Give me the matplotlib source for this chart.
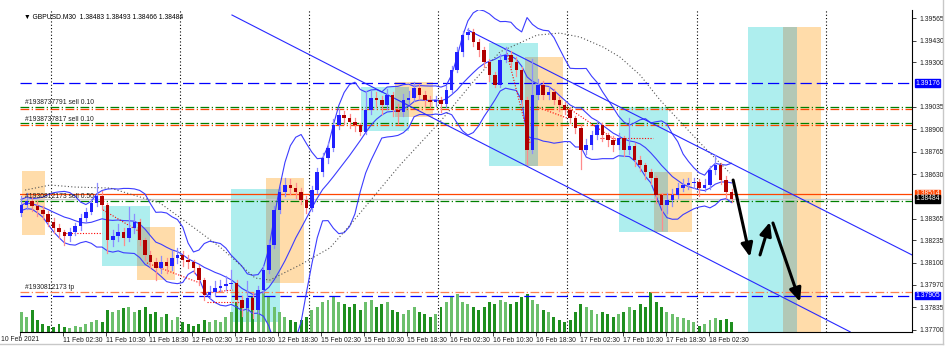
import matplotlib
matplotlib.use("Agg")
import matplotlib.pyplot as plt
from matplotlib.patches import Rectangle
from matplotlib.lines import Line2D
import pandas as pd

plt.rcParams["font.family"] = ["Liberation Sans", "DejaVu Sans"]

# hourly candles (two M30 bars per candle)
first_open = 1.38400
closes = [1.38447, 1.38471, 1.38441, 1.38417, 1.38393, 1.38345, 1.38309, 1.38285, 1.38261, 1.38285,
          1.38321, 1.38369, 1.38405, 1.38459, 1.38501, 1.38447, 1.38237, 1.38261, 1.38285, 1.38249,
          1.38309, 1.38345, 1.38237, 1.38148, 1.38106, 1.38070, 1.38106, 1.38082, 1.38130, 1.38148,
          1.38118, 1.38106, 1.38070, 1.37998, 1.37909, 1.37926, 1.37950, 1.37962, 1.37974, 1.37980,
          1.37879, 1.37831, 1.37891, 1.37819, 1.37938, 1.38058, 1.38208, 1.38417, 1.38524, 1.38566,
          1.38548, 1.38524, 1.38477, 1.38429, 1.38536, 1.38644, 1.38728, 1.38788, 1.38925, 1.38985,
          1.38967, 1.38943, 1.38925, 1.38883, 1.39015, 1.39087, 1.39075, 1.39045, 1.39105, 1.39015,
          1.39003, 1.39075, 1.39087, 1.39146, 1.39105, 1.39075, 1.39063, 1.39075, 1.39051, 1.39134,
          1.39254, 1.39362, 1.39463, 1.39481, 1.39421, 1.39374, 1.39302, 1.39224, 1.39164, 1.39314,
          1.39344, 1.39302, 1.39254, 1.39075, 1.38776, 1.39105, 1.39164, 1.39105, 1.39122, 1.39075,
          1.39045, 1.39015, 1.38967, 1.38907, 1.38776, 1.38806, 1.38865, 1.38925, 1.38865, 1.38835,
          1.38806, 1.38847, 1.38776, 1.38800, 1.38716, 1.38686, 1.38644, 1.38608, 1.38507, 1.38447,
          1.38477, 1.38507, 1.38548, 1.38566, 1.38578, 1.38584, 1.38548, 1.38566, 1.38656, 1.38686,
          1.38596, 1.38524, 1.38484]
highs = [1.38500, 1.38518, 1.38500, 1.38470, 1.38440, 1.38410, 1.38370, 1.38330, 1.38300, 1.38310,
         1.38340, 1.38390, 1.38430, 1.38480, 1.38578, 1.38530, 1.38460, 1.38300, 1.38330, 1.38310,
         1.38435, 1.38390, 1.38360, 1.38250, 1.38170, 1.38130, 1.38140, 1.38130, 1.38170, 1.38190,
         1.38170, 1.38150, 1.38120, 1.38090, 1.38010, 1.37960, 1.37990, 1.38000, 1.38020, 1.38060,
         1.38000, 1.37900, 1.37990, 1.37920, 1.37960, 1.38080, 1.38240, 1.38440, 1.38560, 1.38608,
         1.38600, 1.38580, 1.38550, 1.38500, 1.38560, 1.38670, 1.38760, 1.38820, 1.38960, 1.39020,
         1.39010, 1.38990, 1.38970, 1.38940, 1.39130, 1.39130, 1.39120, 1.39100, 1.39140, 1.39120,
         1.39050, 1.39110, 1.39130, 1.39182, 1.39170, 1.39130, 1.39100, 1.39100, 1.39090, 1.39160,
         1.39280, 1.39390, 1.39490, 1.39505, 1.39500, 1.39440, 1.39390, 1.39320, 1.39240, 1.39350,
         1.39390, 1.39370, 1.39330, 1.39270, 1.39090, 1.39320, 1.39200, 1.39190, 1.39160, 1.39140,
         1.39090, 1.39060, 1.39030, 1.38980, 1.38930, 1.38840, 1.38890, 1.38950, 1.38940, 1.38880,
         1.38860, 1.38880, 1.38860, 1.38970, 1.38820, 1.38740, 1.38700, 1.38660, 1.38620, 1.38520,
         1.38520, 1.38540, 1.38580, 1.38600, 1.38610, 1.38610, 1.38600, 1.38600, 1.38680, 1.38746,
         1.38700, 1.38620, 1.38540]
lows = [1.38380, 1.38420, 1.38410, 1.38380, 1.38360, 1.38320, 1.38280, 1.38250, 1.38208, 1.38230,
        1.38270, 1.38300, 1.38350, 1.38390, 1.38440, 1.38420, 1.38160, 1.38200, 1.38230, 1.38210,
        1.38230, 1.38280, 1.38210, 1.38120, 1.38070, 1.37998, 1.38040, 1.38040, 1.38060, 1.38100,
        1.38080, 1.38070, 1.38040, 1.37970, 1.37880, 1.37890, 1.37910, 1.37930, 1.37940, 1.37950,
        1.37850, 1.37780, 1.37810, 1.37771, 1.37800, 1.37920, 1.38040, 1.38190, 1.38400, 1.38500,
        1.38510, 1.38490, 1.38450, 1.38400, 1.38410, 1.38520, 1.38620, 1.38700, 1.38770, 1.38900,
        1.38930, 1.38910, 1.38890, 1.38865, 1.38870, 1.38990, 1.39030, 1.38990, 1.39020, 1.38980,
        1.38930, 1.38980, 1.39050, 1.39070, 1.39080, 1.39040, 1.39030, 1.39040, 1.39000, 1.39030,
        1.39120, 1.39240, 1.39340, 1.39440, 1.39400, 1.39340, 1.39270, 1.39190, 1.39150, 1.39150,
        1.39300, 1.39270, 1.39220, 1.39040, 1.38690, 1.38760, 1.39080, 1.39080, 1.39080, 1.39050,
        1.39010, 1.38990, 1.38940, 1.38880, 1.38660, 1.38750, 1.38780, 1.38840, 1.38830, 1.38800,
        1.38770, 1.38780, 1.38740, 1.38750, 1.38680, 1.38650, 1.38600, 1.38570, 1.38460, 1.38300,
        1.38400, 1.38440, 1.38490, 1.38530, 1.38540, 1.38550, 1.38500, 1.38530, 1.38540, 1.38630,
        1.38570, 1.38490, 1.38466]
# tick volume per hourly candle
volumes = [2000, 1500, 2200, 1200, 800, 600, 500, 800, 500, 400,
           600, 500, 800, 1000, 1200, 1000, 2200, 2000, 2200, 2400,
           2500, 2000, 2200, 2500, 1800, 2000, 1500, 1800, 1200, 1500,
           1000, 800, 600, 800, 1200, 1000, 1200, 1000, 1500, 2000,
           3000, 2800, 2500, 3500, 3000, 4000, 3500, 2500, 2000, 1500,
           1200, 1000, 1200, 1500, 2200, 2500, 3000, 3200, 3500, 3000,
           2800, 2500, 2800, 2200, 3000, 3200, 2500, 2800, 3000, 2200,
           2000, 1800, 2200, 2500, 2000, 1800, 1500, 1800, 2500, 3000,
           3500, 3800, 3000, 2800, 2500, 2200, 2500, 3000, 2800, 3200,
           3000, 2800, 3000, 3500, 3800, 3200, 2800, 2200, 2000, 1500,
           1200, 1000, 1200, 2000, 2800, 2500, 2200, 1800, 2000, 1800,
           1500, 1800, 2000, 2500, 2200, 2800, 2500, 4000, 3000, 2500,
           2000, 1800, 1500, 1400, 1200, 1000, 600, 800, 1200, 1400,
           1200, 1300, 1000]
vol_top = 32200

# slow dotted indicator as (M30 bar, price)
slow_bars = [1.9, 11.2, 20.4, 33.5, 52.0, 64.3, 74.3, 87.4, 92.9, 104.1, 115.2, 122.7, 141.3,
             156.1, 168.4, 178.4, 192.2, 200.7, 208.2, 216.7, 223.0, 230.5, 237.9, 252.8, 263.9]
slow_vals = [1.38536, 1.38566, 1.38554, 1.38548, 1.38459, 1.38315, 1.38196, 1.38010, 1.37998,
             1.38088, 1.38190, 1.38327, 1.38686, 1.38943, 1.39182, 1.39362, 1.39463, 1.39475,
             1.39451, 1.39392, 1.39332, 1.39224, 1.39075, 1.38818, 1.38638]

time_labels = ["10 Feb 2021", "11 Feb 02:30", "11 Feb 10:30", "11 Feb 18:30", "12 Feb 02:30",
               "12 Feb 10:30", "12 Feb 18:30", "15 Feb 02:30", "15 Feb 10:30", "15 Feb 18:30",
               "16 Feb 02:30", "16 Feb 10:30", "16 Feb 18:30", "17 Feb 02:30", "17 Feb 10:30",
               "17 Feb 18:30", "18 Feb 02:30"]
price_ticks = [1.39565, 1.39430, 1.39300, 1.39035, 1.38900, 1.38765, 1.38630,
               1.38365, 1.38235, 1.38100, 1.37970, 1.37835, 1.37700]

# zones: (start bar, end bar, top price, bottom price), in M30 bars
cyan_boxes = [(30.5, 48.3, 1.38441, 1.38082), (78.4, 96.7, 1.38542, 1.37747),
              (126.8, 144.6, 1.39152, 1.38889), (174.3, 192.6, 1.39415, 1.38680),
              (222.7, 240.9, 1.39033, 1.38285), (270.6, 288.8, 1.39511, 1.37640)]
orange_boxes = [(0.7, 9.3, 1.38650, 1.38267), (43.5, 57.6, 1.38315, 1.37998),
                (91.4, 105.6, 1.38608, 1.37980), (139.4, 153.5, 1.39182, 1.38973),
                (187.7, 201.9, 1.39332, 1.38680), (235.7, 249.8, 1.38644, 1.38285),
                (283.6, 297.8, 1.39511, 1.37640)]

# trend lines: (bar0, price0, bar1, price1)
trend_lines = [(78.8, 1.39583, 308.6, 1.37688), (166.5, 1.39493, 331.6, 1.38148)]
# closed trades (red dotted)
trades = [(16.0, 1.38279, 30.5, 1.38279), (30.9, 1.38417, 44.6, 1.38285),
          (47.2, 1.38100, 66.9, 1.37980), (67.7, 1.37920, 79.2, 1.37938),
          (69.5, 1.37867, 81.8, 1.37867), (181.0, 1.39356, 189.6, 1.38817),
          (192.2, 1.39033, 203.3, 1.38967), (203.3, 1.39033, 223.0, 1.38817),
          (215.6, 1.38847, 235.3, 1.38847)]
# hand drawn forecast arrows
arrows = [(265.1, 1.38596, 271.4, 1.38136), (275.1, 1.38148, 278.8, 1.38345),
          (279.9, 1.38339, 290.0, 1.37867)]

# horizontal order / price lines: (price, colour, style)
dashdot = (0, (7, 2, 1, 2))
hlines = [(1.39176, "#0000ff", (0, (9, 4))),
          (1.39035, "#008000", dashdot),
          (1.39023, "#ff4500", dashdot),
          (1.38937, "#008000", dashdot),
          (1.38925, "#ff4500", dashdot),
          (1.38514, "#ff4500", "-"),
          (1.38484, "#c8c8c8", "-"),
          (1.38471, "#008000", dashdot),
          (1.37928, "#ff7f50", dashdot),
          (1.37905, "#0000ff", (0, (9, 4)))]
order_texts = [(1.39057, "#1938737791 sell 0.10"), (1.38961, "#1938737817 sell 0.10"),
               (1.38495, "#1930812173 sell 0.50"), (1.37956, "#1930812173 tp")]
price_boxes = [(1.39176, "#0000ff"), (1.38514, "#ff4500"), (1.38484, "#000000"), (1.37905, "#0000ff")]

opens = [first_open] + closes[:-1]
xs = [2 * k + 0.5 for k in range(len(closes))]

fig = plt.figure(figsize=(9.5, 3.54), dpi=100)
ax = fig.add_axes([20 / 950, 22 / 354, 892 / 950, 322 / 354])
fs = 4.9

for b in cyan_boxes:
    ax.add_patch(Rectangle((b[0], b[3]), b[1] - b[0], b[2] - b[3], fc="#aeeeee", ec="none", zorder=0))
for b in orange_boxes:
    ax.add_patch(Rectangle((b[0], b[3]), b[1] - b[0], b[2] - b[3], fc="#ffdcaa", ec="none", zorder=0))
for c in cyan_boxes:
    for o in orange_boxes:
        x0, x1 = max(c[0], o[0]), min(c[1], o[1])
        top, bot = min(c[2], o[2]), max(c[3], o[3])
        if x1 > x0 and top > bot:
            ax.add_patch(Rectangle((x0, bot), x1 - x0, top - bot, fc="#b2c8b6", ec="none", zorder=0.5))

# day separators
for d in range(7):
    ax.axvline(11.5 + 48 * d, color="black", lw=0.8, ls=(0, (1, 2)), zorder=1)

# volumes at the bottom of the price window
vcol = ["#1f8f1f" if c < o else "#6cbf6c" for o, c in zip(opens, closes)]
ax.bar(xs, [v / vol_top for v in volumes], width=1.1, color=vcol,
       transform=ax.get_xaxis_transform(), zorder=1.5)

for p, col, ls in hlines:
    ax.axhline(p, color=col, ls=ls, lw=0.9, zorder=2)

# bollinger bands from the closes
s = pd.Series(closes)
mid = s.rolling(10, min_periods=1).mean()
sd = s.rolling(10, min_periods=2).std().bfill()
for band in [mid, mid + 2 * sd, mid - 2 * sd]:
    ax.plot(xs, band, color="#3c3cff", lw=0.8, zorder=2.5)
ax.plot(slow_bars, slow_vals, color="#555555", lw=0.8, ls=(0, (1, 2)), zorder=2.5)

for x0, p0, x1, p1 in trend_lines:
    ax.plot([x0, x1], [p0, p1], color="#2828ff", lw=0.8, zorder=2.5)
for x0, p0, x1, p1 in trades:
    ax.plot([x0, x1], [p0, p1], color="#ff0000", lw=0.8, ls=(0, (1, 1.5)), zorder=2.6)

# candles
for x, o, h, l, c in zip(xs, opens, highs, lows, closes):
    up = c >= o
    ax.plot([x, x], [l, h], color="#8c8cff" if up else "#ff8c8c", lw=0.9, zorder=3)
    ax.add_patch(Rectangle((x - 0.65, min(o, c)), 1.3, max(abs(c - o), 0.00003),
                           fc="#2020ff" if up else "#b00000", ec="none", zorder=3.2))

for x0, p0, x1, p1 in arrows:
    ax.annotate("", xy=(x1, p1), xytext=(x0, p0),
                arrowprops=dict(arrowstyle="-|>,head_length=0.8,head_width=0.35",
                                color="black", lw=2.2, shrinkA=0, shrinkB=0), zorder=4)

for p, t in order_texts:
    ax.text(2, p, t, fontsize=fs, color="#202020", va="center", ha="left", zorder=4)

ax.text(1.5, 1.39571, "\u25bc GBPUSD.M30  1.38483 1.38493 1.38466 1.38484", fontsize=fs,
        color="black", va="center", ha="left")

ax.set_xlim(0, 331.6)
ax.set_ylim(1.37687, 1.39613)

ax.yaxis.tick_right()
ax.set_yticks(price_ticks)
ax.set_yticklabels(["%.5f" % p for p in price_ticks])
ax.tick_params(axis="y", labelsize=fs, length=3, width=0.6, pad=2, colors="#202020")
ax.set_xticks([16 * j for j in range(len(time_labels))])
ax.set_xticklabels([""] + time_labels[1:], ha="left")
ax.tick_params(axis="x", labelsize=fs, length=3, width=0.6, pad=0.5, colors="#202020")
# first date label sits left of its tick, against the window edge
ax.text(-7.0, -0.011, time_labels[0], transform=ax.get_xaxis_transform(), fontsize=fs,
        color="#202020", ha="left", va="top", clip_on=False)

for sp in ["top", "left"]:
    ax.spines[sp].set_visible(False)
for sp in ["right", "bottom"]:
    ax.spines[sp].set_linewidth(0.8)

for p, col in price_boxes:
    ax.text(1.0035, p, "%.5f" % p, transform=ax.get_yaxis_transform(), fontsize=fs, color="white",
            va="center", ha="left", bbox=dict(boxstyle="square,pad=0.06", fc=col, ec=col), zorder=5)

fig.add_artist(Line2D([0, 943 / 950], [10 / 354, 10 / 354], color="#c8c8c8", lw=1))
fig.add_artist(Line2D([943 / 950, 943 / 950], [10 / 354, 1], color="#c8c8c8", lw=1))

fig.savefig("out.png", dpi=100)
